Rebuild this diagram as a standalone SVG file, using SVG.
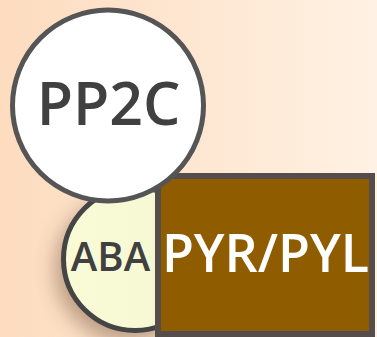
<svg xmlns="http://www.w3.org/2000/svg" width="377" height="337" viewBox="0 0 377 337">
<defs>
<linearGradient id="bg" x1="0" y1="0" x2="1" y2="0">
<stop offset="0" stop-color="#fddcbf"/>
<stop offset="1" stop-color="#fff1e3"/>
</linearGradient>
<linearGradient id="aba" x1="0" y1="0" x2="1" y2="0">
<stop offset="0" stop-color="#f8fbd6"/>
<stop offset="0.6" stop-color="#f6f9d4"/>
<stop offset="1" stop-color="#e2e2bc"/>
</linearGradient>
<filter id="sh" x="-40%" y="-40%" width="180%" height="180%">
<feGaussianBlur in="SourceAlpha" stdDeviation="10"/>
<feOffset dx="-6" dy="10" result="b"/>
<feFlood flood-color="#6b4a30" flood-opacity="0.45"/>
<feComposite in2="b" operator="in"/>
<feMerge><feMergeNode/><feMergeNode in="SourceGraphic"/></feMerge>
</filter>
</defs>
<style>
.lbl{font-family:"Open Sans","Liberation Sans",sans-serif;font-weight:600;text-anchor:middle}
</style>
<rect width="377" height="337" fill="url(#bg)"/>
<g id="connectors"/>
<g id="aba-node">
<circle cx="135" cy="259" r="71.5" fill="url(#aba)" stroke="#454545" stroke-width="5" filter="url(#sh)"/>
<text class="lbl" x="110.5" y="271" font-size="40" fill="#404040">ABA</text>
</g>
<g id="pyr-node">
<rect x="158" y="176" width="214" height="158" fill="#8f5c00" stroke="#554d4b" stroke-width="6"/>
<text class="lbl" x="265.5" y="272" font-size="52" fill="#ffffff">PYR/PYL</text>
</g>
<g id="pp2c-node">
<circle cx="108" cy="105.5" r="95.5" fill="#ffffff" stroke="#555555" stroke-width="5"/>
<text class="lbl" x="108.5" y="125" font-size="59" fill="#404040">PP2C</text>
</g>
</svg>
